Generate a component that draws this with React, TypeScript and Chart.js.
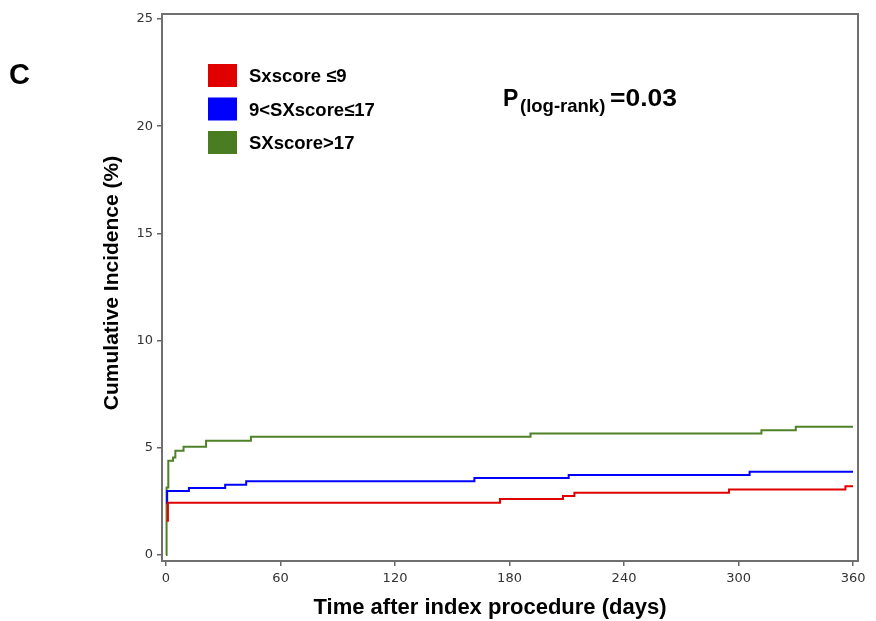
import React, { useEffect, useRef } from 'react';
import { Chart, registerables } from 'chart.js';

Chart.register(...registerables);

// ---- data ----
const seriesLabels = ['Sxscore \u22649', '9<SXscore\u226417', 'SXscore>17'];
const seriesColors = ['#e00000', '#0000ff', '#4a7c22'];

const redDays = [0.3, 1.0, 175, 208, 214, 295, 356, 360];
const redCum = [1.6, 2.44, 2.61, 2.75, 2.9, 3.06, 3.21, 3.21];

const blueDays = [0.5, 0.6, 12, 31, 42, 161.6, 211, 305.8, 360];
const blueCum = [2.38, 2.98, 3.13, 3.28, 3.44, 3.59, 3.73, 3.88, 3.88];

const greenDays = [0, 0.3, 1.2, 3.7, 4.9, 9.2, 21, 44.5, 191, 312, 330, 360];
const greenCum = [0, 3.15, 4.39, 4.55, 4.86, 5.05, 5.33, 5.51, 5.67, 5.82, 5.98, 5.98];

const xTicks = [0, 60, 120, 180, 240, 300, 360];
const yTicks = [0, 5, 10, 15, 20, 25];

const xTitle = 'Time after index procedure (days)';
const yTitle = 'Cumulative Incidence (%)';
const panelLetter = 'C';
const pMain = 'P';
const pSub = '(log-rank)';
const pValue = '=0.03';

const BOLD = '"Liberation Sans", Arial, Helvetica, sans-serif';

const decorPlugin = {
  id: 'decor',
  afterDraw(chart: any) {
    const { ctx, chartArea } = chart;
    const { left, top, right, bottom } = chartArea;
    ctx.save();
    // frame
    ctx.strokeStyle = '#707070';
    ctx.lineWidth = 2;
    ctx.strokeRect(left, top, right - left, bottom - top);

    // legend
    const rowsY = [64, 97.5, 131];
    seriesLabels.forEach((lab, i) => {
      ctx.fillStyle = seriesColors[i];
      ctx.fillRect(208, rowsY[i], 29, 23);
      ctx.fillStyle = '#000';
      ctx.font = `bold 18.5px ${BOLD}`;
      ctx.textBaseline = 'alphabetic';
      ctx.textAlign = 'left';
      ctx.fillText(lab, 249, rowsY[i] + 18);
    });

    // P value
    ctx.fillStyle = '#000';
    ctx.font = `bold 23px ${BOLD}`;
    ctx.fillText(pMain, 503, 106);
    ctx.font = `bold 18.5px ${BOLD}`;
    ctx.fillText(pSub, 520, 112);
    ctx.save();
    ctx.translate(610, 106);
    ctx.scale(1.15, 1);
    ctx.font = `bold 23px ${BOLD}`;
    ctx.fillText(pValue, 0, 0);
    ctx.restore();

    // panel letter
    ctx.font = `bold 29px ${BOLD}`;
    ctx.fillText(panelLetter, 9, 84);

    // x title
    ctx.font = `bold 22px ${BOLD}`;
    ctx.textAlign = 'center';
    ctx.fillText(xTitle, 490, 614);

    // y title
    ctx.save();
    ctx.translate(118, 283);
    ctx.rotate(-Math.PI / 2);
    ctx.font = `bold 21px ${BOLD}`;
    ctx.textAlign = 'center';
    ctx.fillText(yTitle, 0, 0);
    ctx.restore();

    ctx.restore();
  },
};

export default function App() {
  const ref = useRef<HTMLCanvasElement | null>(null);
  useEffect(() => {
    if (!ref.current) return;
    const mk = (days: number[], vals: number[]) => days.map((d, i) => ({ x: d, y: vals[i] }));
    const tickFont = { family: '"DejaVu Sans", sans-serif', size: 13 };
    const chart = new Chart(ref.current, {
      type: 'line',
      data: {
        datasets: [
          { label: seriesLabels[0], data: mk(redDays, redCum), borderColor: seriesColors[0] },
          { label: seriesLabels[1], data: mk(blueDays, blueCum), borderColor: seriesColors[1] },
          { label: seriesLabels[2], data: mk(greenDays, greenCum), borderColor: '#4f8228' },
        ].map((d) => ({ ...d, stepped: true, pointRadius: 0, borderWidth: 2, fill: false, tension: 0 })),
      },
      options: {
        responsive: false,
        animation: false,
        devicePixelRatio: 1,
        layout: { padding: { top: 14, right: 18, left: 0, bottom: 0 } },
        plugins: { legend: { display: false }, tooltip: { enabled: false } },
        scales: {
          x: {
            type: 'linear',
            min: -2.1,
            max: 362.6,
            afterBuildTicks: (s: any) => {
              s.ticks = xTicks.map((v) => ({ value: v }));
            },
            afterFit: (s: any) => {
              s.height = 60;
            },
            grid: { drawOnChartArea: false, drawTicks: true, tickLength: 5, color: '#666', lineWidth: 1.5 },
            border: { display: false },
            ticks: { font: tickFont, color: '#333', padding: 5, maxRotation: 0, autoSkip: false },
          },
          y: {
            type: 'linear',
            min: -0.28,
            max: 25.233,
            afterBuildTicks: (s: any) => {
              s.ticks = yTicks.map((v) => ({ value: v }));
            },
            afterFit: (s: any) => {
              s.width = 162;
            },
            grid: { drawOnChartArea: false, drawTicks: true, tickLength: 5, color: '#666', lineWidth: 1.5 },
            border: { display: false },
            ticks: { font: tickFont, color: '#333', padding: 4, autoSkip: false },
          },
        },
      },
      plugins: [decorPlugin],
    } as any);
    return () => chart.destroy();
  }, []);
  return (
    <div style={{ position: 'absolute', left: 0, top: 0, width: 876, height: 621, background: '#fff' }}>
      <canvas ref={ref} width={876} height={621} style={{ display: 'block' }} />
    </div>
  );
}
